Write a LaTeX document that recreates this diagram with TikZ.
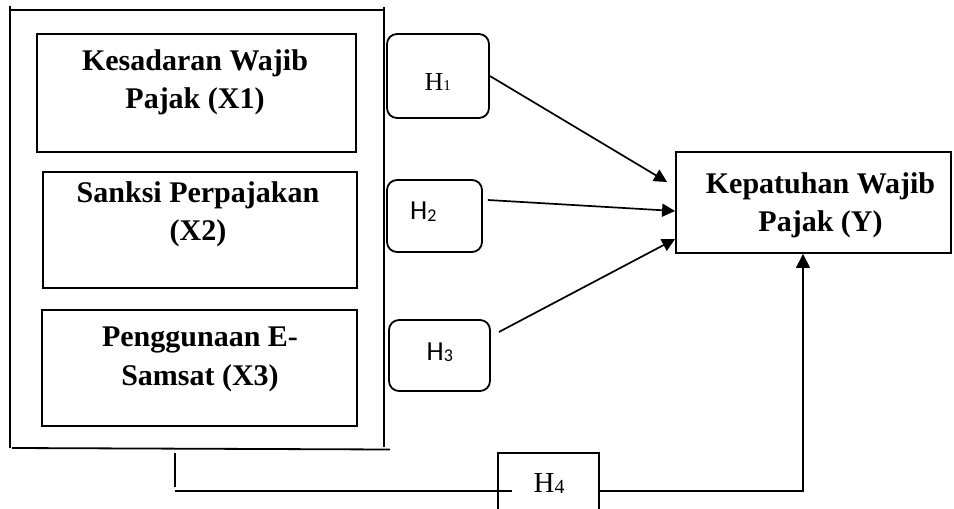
\documentclass[tikz,border=0pt]{standalone}
\usepackage{fontspec}
\setmainfont{Liberation Serif}
\newfontfamily\calibfont{Carlito}
\usetikzlibrary{arrows.meta}
\begin{document}
\begin{tikzpicture}[x=1pt,y=-1pt,
  box/.style={draw,line width=1.8pt,inner sep=0pt,rectangle},
  hbox/.style={draw,line width=1.8pt,rounded corners=10pt,inner sep=0pt,rectangle},
  lbl/.style={font=\fontsize{30}{38.5}\selectfont\bfseries,align=center,inner sep=0pt,anchor=north},
  hlbl/.style={anchor=base west,inner sep=0pt},
  arr/.style={line width=1.7pt,-{Triangle[length=13pt,width=13pt]}},
  thin/.style={line width=1.3pt},
]
\useasboundingbox (0,0) rectangle (954,509);
\clip (0,0) rectangle (954,509);

% outer container
\coordinate (otl) at (10,10);
\coordinate (otr) at (384,10);
\coordinate (obl) at (10,448);
\coordinate (obr) at (384,448);
\draw[line width=2pt] (10,6) -- (obl);
\draw[line width=1.8pt] (otl) -- (otr);
\draw[line width=1.8pt] (384,7) -- (384,447);
\draw[line width=1.8pt] (12,448) -- (390,449.5);

% inner boxes
\node[box,minimum width=319pt,minimum height=118pt] (x1) at (196.5,93) {};
\node[box,minimum width=314pt,minimum height=116pt] (x2) at (200,230) {};
\node[box,minimum width=315pt,minimum height=116pt] (x3) at (199.5,368) {};
\node[lbl] (t1) at (195,49) {Kesadaran Wajib\\Pajak (X1)};
\node[lbl] (t2) at (198,181) {Sanksi Perpajakan\\(X2)};
\node[lbl] (t3) at (200,327) {Penggunaan E-\\Samsat (X3)};

% dependent box
\node[box,minimum width=275pt,minimum height=101pt] (y) at (813.5,202.5) {};
\node[lbl] (ty) at (820.5,172) {Kepatuhan Wajib\\Pajak (Y)};

% hypothesis boxes
\node[hbox,minimum width=102pt,minimum height=84pt] (h1) at (438,76) {};
\node[hbox,minimum width=95pt,minimum height=72pt] (h2) at (434.5,216) {};
\node[hbox,minimum width=101pt,minimum height=71pt] (h3) at (439.5,355.5) {};
\node[draw,thin,inner sep=0pt,minimum width=101pt,minimum height=76pt] (h4) at (548.5,491) {};

\node[hlbl,font=\fontsize{26}{26}\selectfont] (l1) at (424.5,90.7) {H{\fontsize{15}{15}\selectfont 1}};
\node[hlbl,font=\calibfont\fontsize{27.5}{27.5}\selectfont] (l2) at (410,219.3) {H\raisebox{-2.3pt}{\fontsize{18}{18}\selectfont 2}};
\node[hlbl,font=\calibfont\fontsize{27.5}{27.5}\selectfont] (l3) at (426.5,360) {H\raisebox{-1.7pt}{\fontsize{18}{18}\selectfont 3}};
\node[hlbl,font=\fontsize{29}{29}\selectfont] (l4) at (533.5,492.3) {H\raisebox{-1pt}{\fontsize{20}{20}\selectfont 4}};

% arrows
\draw[arr] (h1.east) -- ([shift={(-8,-20.5)}]y.west);
\draw[arr] ([shift={(5,-16)}]h2.east) -- ([shift={(0,8.5)}]y.west);
\draw[arr] ([shift={(8,-23.5)}]h3.east) -- ([shift={(0,36.5)}]y.west);

% H4 path
\coordinate (tk1) at (175,453);
\coordinate (tk2) at (175,487);
\coordinate (hl) at (175,491);
\draw[thin] (tk1) -- (tk2);
\draw[thin] (hl) -- ([xshift=15pt]h4.west);
\draw[thin,-{Triangle[length=14pt,width=14pt]}] (h4.east) -| ([xshift=-10.5pt]y.south);
\end{tikzpicture}
\end{document}
